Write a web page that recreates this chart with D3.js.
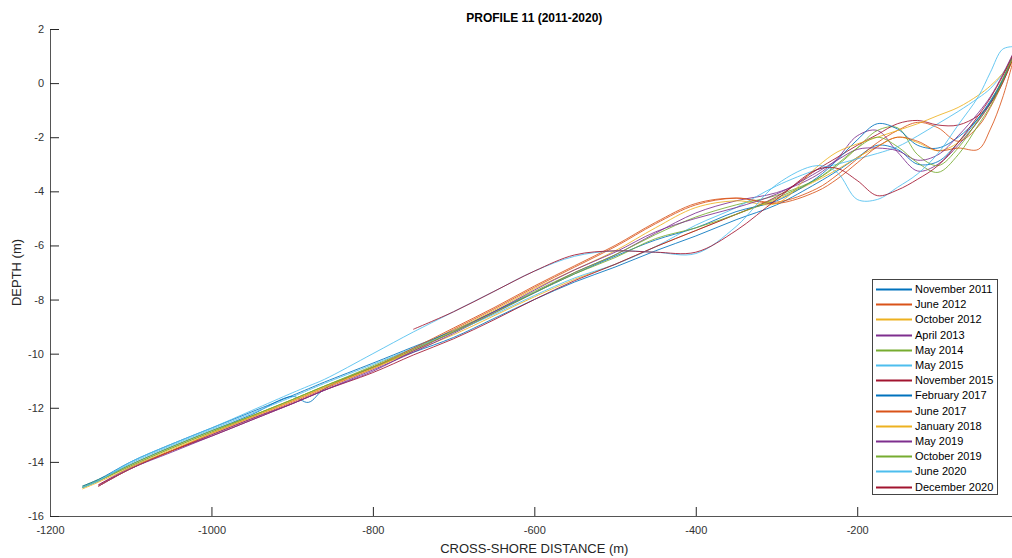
<!DOCTYPE html>
<html>
<head>
<meta charset="utf-8">
<script src="https://cdn.jsdelivr.net/npm/d3@7"></script>
<style>
    body { margin: 0; background: #fff; }
    svg { display: block; font-family: "Liberation Sans", Arial, Helvetica, sans-serif; }
</style>
</head>
<body>
<div id="chart"></div>
<script>
// cross-shore distance (m), shared by every survey
const distance = [-1160, -1140, -1100, -1050, -1000, -950, -900, -880, -860, -800,
    -750, -700, -650, -600, -550, -500, -450, -400, -350, -300,
    -250, -225, -200, -175, -150, -125, -100, -75, -50, -35,
    -20, -7];

// depth (m) per survey
const nov2011 = [-14.95, -14.7, -14.1, -13.45, -12.85, -12.25, -11.58, -11.8, -11.3, -10.5,
    -9.95, -9.4, -8.7, -8.0, -7.35, -6.8, -6.2, -5.65, -5.05, -4.5,
    -3.7, -3.25, -2.75, -2.3, -2.45, -3.0, -2.9, -2.2, -1.3, -0.65,
    0.1, 0.95];
const jun2012 = [null, -14.9, -14.25, -13.6, -13.0, -12.4, -11.8, -11.55, -11.3, -10.55,
    -9.85, -9.1, -8.35, -7.55, -6.8, -6.05, -5.2, -4.5, -4.25, -4.4,
    -3.9, -3.4, -2.8, -2.2, -1.75, -1.45, -1.65, -2.15, -1.6, -0.9,
    0.0, 0.9];
const oct2012 = [-14.95, -14.7, -14.15, -13.5, -12.9, -12.3, -11.7, -11.45, -11.2, -10.5,
    -9.9, -9.3, -8.6, -7.9, -7.25, -6.7, -6.05, -5.45, -4.85, -4.3,
    -3.6, -3.2, -2.75, -2.35, -2.0, -2.2, -2.5, -2.2, -1.4, -0.75,
    0.05, 0.85];
const apr2013 = [null, -14.85, -14.2, -13.6, -13.0, -12.4, -11.85, -11.6, -11.35, -10.6,
    -9.95, -9.25, -8.5, -7.75, -7.0, -6.35, -5.55, -4.8, -4.35, -4.05,
    -3.4, -2.8, -1.95, -1.75, -2.55, -3.25, -3.0, -2.3, -1.4, -0.75,
    0.05, 0.95];
const may2014 = [-14.9, -14.65, -14.1, -13.45, -12.85, -12.3, -11.7, -11.45, -11.2, -10.45,
    -9.8, -9.15, -8.45, -7.7, -7.0, -6.35, -5.6, -4.95, -4.5, -4.15,
    -3.55, -3.05, -2.4, -1.75, -1.65, -2.65, -3.05, -2.4, -1.35, -0.7,
    0.15, 1.05];
const may2015 = [-14.95, -14.7, -14.05, -13.4, -12.8, -12.2, -11.6, -11.35, -11.1, -10.4,
    -9.8, -9.2, -8.55, -7.85, -7.2, -6.7, -6.05, -5.25, -4.6, -3.8,
    -3.2, -3.0, -2.8, -2.6, -2.35, -1.95, -1.5, -1.05, -0.55, -0.2,
    0.35, 1.0];
const nov2015 = [null, -14.85, -14.25, -13.6, -13.05, -12.45, -11.85, -11.6, -11.35, -10.7,
    -10.05, -9.45, -8.75, -8.0, -7.3, -6.7, -6.05, -5.45, -4.85, -4.2,
    -3.2, -2.75, -2.3, -1.9, -1.5, -1.38, -1.55, -1.55, -1.2, -0.75,
    0.0, 0.95];
const feb2017 = [-14.9, -14.65, -14.0, -13.35, -12.75, -12.15, -11.55, -11.3, -11.05, -10.35,
    -9.75, -9.15, -8.45, -7.75, -7.05, -6.4, -5.8, -5.35, -4.75, -4.35,
    -3.5, -2.85, -2.1, -1.5, -1.7, -2.3, -2.4, -2.0, -1.3, -0.7,
    0.1, 1.0];
const jun2017 = [null, -14.9, -14.25, -13.6, -12.95, -12.35, -11.75, -11.5, -11.25, -10.5,
    -9.8, -9.05, -8.3, -7.5, -6.75, -6.0, -5.15, -4.45, -4.25, -4.45,
    -4.0, -3.55, -2.95, -2.35, -2.0, -2.15, -2.5, -2.4, -2.45, -1.7,
    -0.55, 0.8];
const jan2018 = [-15.0, -14.75, -14.2, -13.55, -12.95, -12.35, -11.75, -11.5, -11.25, -10.55,
    -9.9, -9.15, -8.4, -7.6, -6.9, -6.2, -5.35, -4.6, -4.35, -4.45,
    -3.1, -2.55, -2.25, -2.0, -1.75, -1.5, -1.2, -0.9, -0.45, -0.1,
    0.35, 0.9];
const may2019 = [null, -14.9, -14.25, -13.65, -13.05, -12.45, -11.85, -11.6, -11.35, -10.65,
    -9.9, -9.2, -8.45, -7.65, -6.9, -6.25, -5.5, -5.0, -4.6, -4.1,
    -3.3, -2.85, -2.45, -2.4, -2.5, -2.85, -2.65, -1.95, -1.1, -0.5,
    0.3, 1.1];
const oct2019 = [-14.95, -14.7, -14.15, -13.5, -12.9, -12.3, -11.7, -11.45, -11.2, -10.5,
    -9.85, -9.2, -8.5, -7.75, -7.05, -6.45, -5.75, -5.35, -4.85, -4.25,
    -3.55, -3.0, -2.4, -2.0, -2.35, -2.95, -3.3, -2.65, -1.55, -0.85,
    0.05, 1.0];
const jun2020 = [-14.95, -14.7, -14.0, -13.35, -12.75, -12.1, -11.45, -11.2, -10.95, -10.0,
    -9.2, -8.45, -7.7, -6.95, -6.4, -6.2, -6.25, -6.3, -5.3, -3.75,
    -3.05, -3.3, -4.3, -4.3, -3.85, -3.35, -2.6, -1.55, -0.5, 0.4,
    1.25, 1.35];
const dec2020 = [null, null, null, null, null, null, null, null, null, null,
    -9.1, -8.45, -7.7, -6.95, -6.35, -6.2, -6.25, -6.25, -5.45, -4.3,
    -3.2, -3.15, -3.6, -4.16, -3.95, -3.55, -3.05, -2.2, -1.2, -0.55,
    0.25, 1.05];

const surveyNames = ["November 2011", "June 2012", "October 2012", "April 2013", "May 2014",
    "May 2015", "November 2015", "February 2017", "June 2017", "January 2018",
    "May 2019", "October 2019", "June 2020", "December 2020"];
const surveyDepths = [nov2011, jun2012, oct2012, apr2013, may2014, may2015, nov2015,
    feb2017, jun2017, jan2018, may2019, oct2019, jun2020, dec2020];
const lineColors = ["#0072BD", "#D95319", "#EDB120", "#7E2F8E", "#77AC30", "#4DBEEE", "#A2142F"];

const xTicks = [-1200, -1000, -800, -600, -400, -200];
const yTicks = [-16, -14, -12, -10, -8, -6, -4, -2, 0, 2];

const width = 1012, height = 558;
const margin = { top: 29, right: -1, bottom: 42, left: 50 };

const svg = d3.select("#chart").append("svg")
    .attr("width", width)
    .attr("height", height);

const x = d3.scaleLinear()
    .domain([-1200, -7])
    .range([margin.left, width - margin.right]);
const y = d3.scaleLinear()
    .domain([-16, 2])
    .range([height - margin.bottom, margin.top]);

const axisColor = "#262626";

// axes, ticks pointing inward like matlab
let xAxis = d3.axisBottom(x)
    .tickValues(xTicks)
    .tickFormat(d => String(d))
    .tickSizeInner(-9)
    .tickSizeOuter(0)
    .tickPadding(10);
let gx = svg.append("g")
    .attr("transform", `translate(0, ${y(-16)})`)
    .call(xAxis);

let yAxis = d3.axisLeft(y)
    .tickValues(yTicks)
    .tickFormat(d => String(d))
    .tickSizeInner(-9)
    .tickSizeOuter(0)
    .tickPadding(6);
let gy = svg.append("g")
    .attr("transform", `translate(${x(-1200)}, 0)`)
    .call(yAxis);

[gx, gy].forEach(g => {
    g.selectAll("path.domain").attr("stroke", "#555").attr("stroke-width", 1);
    g.selectAll(".tick line").attr("stroke", axisColor);
    g.selectAll(".tick text")
        .attr("fill", "#333")
        .style("font-size", "11px")
        .style("font-family", '"Liberation Sans", Arial, sans-serif');
});

// profile lines
svg.append("clipPath").attr("id", "plot-clip")
    .append("rect")
    .attr("x", x(-1200)).attr("y", y(2))
    .attr("width", width - x(-1200)).attr("height", y(-16) - y(2));

let line = d3.line()
    .defined(d => d[1] != null)
    .x(d => x(d[0]))
    .y(d => y(d[1]))
    .curve(d3.curveCatmullRom);

svg.append("g")
    .attr("clip-path", "url(#plot-clip)")
    .selectAll("path")
    .data(surveyDepths)
    .join("path")
    .attr("d", depths => line(distance.map((d, i) => [d, depths[i]])))
    .attr("fill", "none")
    .attr("stroke", (d, i) => lineColors[i % lineColors.length])
    .attr("stroke-width", 1)
    .attr("stroke-opacity", 0.85);

// title and axis labels
svg.append("text")
    .text("PROFILE 11 (2011-2020)")
    .attr("x", (x(-1200) + x(0)) / 2)
    .attr("y", 22)
    .attr("text-anchor", "middle")
    .attr("font-weight", "bold")
    .attr("font-size", "12px")
    .attr("fill", "#000");

svg.append("text")
    .text("CROSS-SHORE DISTANCE (m)")
    .attr("x", (x(-1200) + x(0)) / 2)
    .attr("y", 553)
    .attr("text-anchor", "middle")
    .attr("font-size", "13px")
    .attr("fill", "#262626");

svg.append("text")
    .text("DEPTH (m)")
    .attr("transform", `translate(21, ${(y(2) + y(-16)) / 2}) rotate(-90)`)
    .attr("text-anchor", "middle")
    .attr("font-size", "13px")
    .attr("fill", "#262626");

// legend
let legend = svg.append("g").attr("transform", "translate(872.5, 279.5)");
legend.append("rect")
    .attr("width", 125)
    .attr("height", 215)
    .attr("fill", "#fff")
    .attr("stroke", "#444")
    .attr("stroke-width", 1);

let rows = legend.selectAll("g.row")
    .data(surveyNames)
    .join("g")
    .attr("class", "row")
    .attr("transform", (d, i) => `translate(0, ${Math.round(10 + i * 15.2)})`);
rows.append("line")
    .attr("x1", 3.5).attr("x2", 39.5)
    .attr("stroke", (d, i) => lineColors[i % lineColors.length])
    .attr("stroke-width", 2);
rows.append("text")
    .text(d => d)
    .attr("x", 42.5)
    .attr("dy", "0.35em")
    .attr("font-size", "11px")
    .attr("fill", "#000");
</script>
</body>
</html>
